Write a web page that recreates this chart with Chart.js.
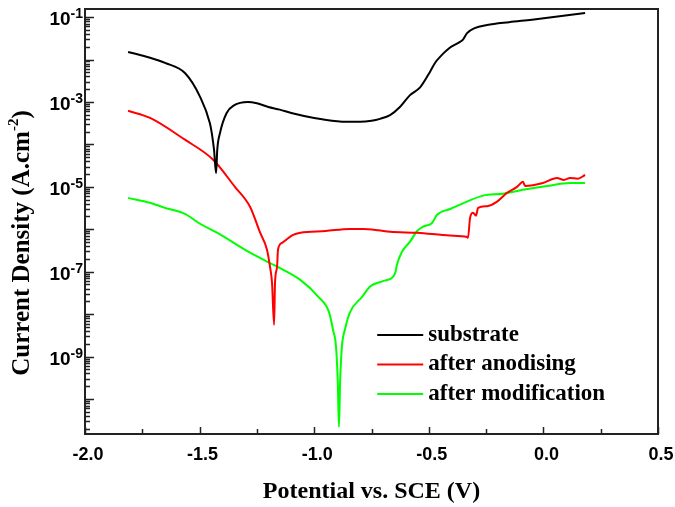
<!DOCTYPE html>
<html lang="en">
<head>
    <meta charset="UTF-8">
    <title>Polarization curves</title>
    <script src="https://cdn.jsdelivr.net/npm/chart.js"></script>
    <style>
        body { margin: 0; background: #fff; }
    </style>
</head>
<body>
    <canvas id="tafelChart" width="675" height="507"></canvas>

    <script>
        // potential (V vs. SCE) and current density (A/cm2)
        const substrateE = [-1.812, -1.716, -1.651, -1.564, -1.498, -1.455, -1.447, -1.437, -1.428, -1.423,
            -1.411, -1.382, -1.35, -1.289, -1.25, -1.20, -1.15, -1.10, -1.0, -0.9,
            -0.857, -0.80, -0.75, -0.713, -0.669, -0.626, -0.582, -0.538, -0.495, -0.473,
            -0.451, -0.41, -0.364, -0.35, -0.333, -0.30, -0.246, -0.15, -0.05, 0.182];
        const substrateI = [1.51e-2, 1.10e-2, 8.3e-3, 4.8e-3, 1.32e-3, 3.16e-4, 1.86e-4, 7.4e-5, 2.1e-5, 7.4e-5,
            1.86e-4, 5.5e-4, 8.3e-4, 1.0e-3, 9.3e-4, 7.6e-4, 6.6e-4, 5.5e-4, 4.2e-4, 3.5e-4,
            3.4e-4, 3.4e-4, 3.6e-4, 4.0e-4, 4.9e-4, 7.6e-4, 1.45e-3, 2.2e-3, 5.1e-3, 8.3e-3,
            1.15e-2, 1.86e-2, 2.6e-2, 3.0e-2, 4.2e-2, 5.5e-2, 6.5e-2, 7.6e-2, 8.7e-2, 1.24e-1];

        const anodisedE = [-1.812, -1.716, -1.564, -1.442, -1.346, -1.28, -1.236, -1.206, -1.193, -1.184,
            -1.175, -1.171, -1.162, -1.158, -1.14, -1.092, -1.06, -0.95, -0.844, -0.787,
            -0.72, -0.669, -0.55, -0.407, -0.333, -0.329, -0.320, -0.307, -0.294, -0.285,
            -0.246, -0.202, -0.159, -0.115, -0.089, -0.080, -0.002, 0.059, 0.09, 0.116,
            0.15, 0.182];
        const anodisedI = [6.2e-4, 4.2e-4, 1.29e-4, 4.4e-5, 1.0e-5, 3.4e-6, 8.3e-7, 3.3e-7, 1.32e-7, 5.5e-8,
            5.6e-9, 5.5e-8, 1.32e-7, 3.3e-7, 4.8e-7, 7.4e-7, 8.3e-7, 9.1e-7, 1.02e-6, 1.02e-6,
            9.5e-7, 8.7e-7, 8.3e-7, 7.1e-7, 6.6e-7, 6.3e-7, 1.86e-6, 2.45e-6, 2.1e-6, 3.2e-6,
            3.5e-6, 4.5e-6, 7.2e-6, 1.0e-5, 1.32e-5, 1.05e-5, 1.23e-5, 1.62e-5, 1.45e-5, 1.62e-5,
            1.55e-5, 1.9e-5];

        const modifiedE = [-1.812, -1.716, -1.651, -1.564, -1.498, -1.424, -1.28, -1.162, -1.062, -0.983,
            -0.935, -0.918, -0.905, -0.897, -0.892, -0.887, -0.879, -0.866, -0.844, -0.79,
            -0.756, -0.70, -0.656, -0.645, -0.639, -0.617, -0.582, -0.551, -0.525, -0.486,
            -0.464, -0.407, -0.333, -0.263, -0.176, -0.089, 0.016, 0.116, 0.182];
        const modifiedI = [5.5e-6, 4.2e-6, 3.2e-6, 2.3e-6, 1.35e-6, 8.3e-7, 2.8e-7, 1.32e-7, 6.5e-8, 2.6e-8,
            1.1e-8, 4.3e-9, 1.74e-9, 2.5e-10, 2.2e-11, 2.5e-10, 1.74e-9, 4.3e-9, 1.1e-8, 2.6e-8,
            4.5e-8, 6.0e-8, 7.6e-8, 1.0e-7, 1.45e-7, 2.95e-7, 5.1e-7, 9.1e-7, 1.15e-6, 1.41e-6,
            2.2e-6, 3.0e-6, 4.5e-6, 6.2e-6, 6.9e-6, 8.5e-6, 1.05e-5, 1.23e-5, 1.23e-5];

        const seriesNames = ['substrate', 'after anodising', 'after modification'];
        const seriesColors = ['#000000', '#ff0000', '#00ff00'];

        // axis range and labelled ticks
        const xMin = -2.0, xMax = 0.5, xStep = 0.5, xMinorStep = 0.25;
        const yMin = 1.5e-11, yMax = 0.155;
        const yLabelExponents = [-1, -3, -5, -7, -9];
        const yTitle = ['Current Density (A.cm', '-2', ')'];

        function pairs(xs, ys) {
            return xs.map((v, i) => ({ x: v, y: ys[i] }));
        }

        const serifFont = "'Liberation Serif', 'Times New Roman', serif";
        const sansFont = "'Liberation Sans', Arial, sans-serif";

        // inward tick marks, frame, superscript labels and the inset legend
        const axisDecor = {
            id: 'axisDecor',
            beforeDatasetsDraw(chart) {
                const { ctx, chartArea: a, scales: { x, y } } = chart;
                ctx.save();
                ctx.strokeStyle = '#222';
                ctx.lineWidth = 1.5;
                ctx.beginPath();
                const n = Math.round((xMax - xMin) / xMinorStep);
                for (let i = 0; i <= n; i++) {
                    const v = xMin + i * xMinorStep;
                    const px = Math.round(x.getPixelForValue(v)) + 0.5;
                    const len = (i % 2 === 0) ? 7 : 5;
                    ctx.moveTo(px, a.bottom);
                    ctx.lineTo(px, a.bottom - len);
                }
                const e0 = Math.floor(Math.log10(yMin)), e1 = Math.ceil(Math.log10(yMax));
                for (let e = e0; e <= e1; e++) {
                    for (let m = 1; m <= 9; m++) {
                        const v = m * Math.pow(10, e);
                        if (v < yMin || v > yMax) continue;
                        const py = Math.round(y.getPixelForValue(v)) + 0.5;
                        const len = m === 1 ? 9 : 5;
                        ctx.moveTo(a.left, py);
                        ctx.lineTo(a.left + len, py);
                    }
                }
                ctx.stroke();
                ctx.lineWidth = 2;
                ctx.strokeStyle = '#222';
                ctx.strokeRect(a.left, a.top, a.width, a.height);
                ctx.restore();
            },
            afterDraw(chart) {
                const { ctx, chartArea: a, scales: { y } } = chart;
                ctx.save();
                ctx.fillStyle = '#000';
                ctx.textBaseline = 'alphabetic';
                ctx.textAlign = 'left';
                yLabelExponents.forEach(e => {
                    const py = y.getPixelForValue(Math.pow(10, e)) + 1;
                    const sup = String(e);
                    ctx.font = 'bold 14px ' + sansFont;
                    const ws = ctx.measureText(sup).width;
                    ctx.font = 'bold 19px ' + sansFont;
                    const wb = ctx.measureText('10').width;
                    const right = a.left - 2;
                    ctx.fillText('10', right - ws - wb, py + 7);
                    ctx.font = 'bold 14px ' + sansFont;
                    ctx.fillText(sup, right - ws, py);
                });

                // rotated y title with superscript
                ctx.save();
                ctx.translate(21, a.top + 234);
                ctx.rotate(-Math.PI / 2);
                const big = 'bold 25px ' + serifFont, small = 'bold 15px ' + serifFont;
                ctx.font = big;
                const w0 = ctx.measureText(yTitle[0]).width, w2 = ctx.measureText(yTitle[2]).width;
                ctx.font = small;
                const w1 = ctx.measureText(yTitle[1]).width;
                let tx = -(w0 + w1 + w2) / 2;
                ctx.font = big;
                ctx.fillText(yTitle[0], tx, 8);
                ctx.font = small;
                ctx.fillText(yTitle[1], tx + w0, -3);
                ctx.font = big;
                ctx.fillText(yTitle[2], tx + w0 + w1, 8);
                ctx.restore();

                // legend inside the plot
                const lx = a.left + 0.51 * a.width;
                const ly = a.top + 326;
                chart.data.datasets.forEach((ds, i) => {
                    const yy = ly + i * 29.5;
                    ctx.strokeStyle = ds.borderColor;
                    ctx.lineWidth = 2;
                    ctx.beginPath();
                    ctx.moveTo(lx, yy);
                    ctx.lineTo(lx + 46, yy);
                    ctx.stroke();
                    ctx.font = 'bold 23px ' + serifFont;
                    ctx.textBaseline = 'middle';
                    ctx.fillText(ds.label, lx + 51, yy);
                });
                ctx.restore();
            }
        };

        const ctx = document.getElementById('tafelChart').getContext('2d');
        new Chart(ctx, {
            type: 'line',
            data: {
                datasets: [
                    { label: seriesNames[0], data: pairs(substrateE, substrateI), borderColor: seriesColors[0] },
                    { label: seriesNames[1], data: pairs(anodisedE, anodisedI), borderColor: seriesColors[1] },
                    { label: seriesNames[2], data: pairs(modifiedE, modifiedI), borderColor: seriesColors[2] }
                ]
            },
            options: {
                responsive: false,
                animation: false,
                parsing: false,
                elements: {
                    line: { borderWidth: 2, cubicInterpolationMode: 'monotone', fill: false },
                    point: { radius: 0, hoverRadius: 0 }
                },
                layout: { padding: { top: 9, right: 17, left: 0, bottom: 0 } },
                plugins: {
                    legend: { display: false },
                    tooltip: { enabled: false }
                },
                scales: {
                    x: {
                        type: 'linear',
                        min: xMin,
                        max: xMax,
                        grid: { display: false, drawTicks: false },
                        border: { display: false },
                        ticks: {
                            stepSize: xStep,
                            padding: 10,
                            labelOffset: 3,
                            color: '#000',
                            font: { family: sansFont, size: 18, weight: 'bold' },
                            callback: v => v.toFixed(1)
                        },
                        title: {
                            display: true,
                            text: 'Potential vs. SCE (V)',
                            color: '#000',
                            font: { family: serifFont, size: 24, weight: 'bold', lineHeight: 1.2 },
                            padding: { top: 0, bottom: 1 }
                        },
                        afterFit: s => {
                            s.height = 73;
                            s.paddingLeft = 0;
                            s.paddingRight = 0;
                        }
                    },
                    y: {
                        type: 'logarithmic',
                        min: yMin,
                        max: yMax,
                        grid: { display: false, drawTicks: false },
                        border: { display: false },
                        ticks: { autoSkip: false, callback: () => '' },
                        title: { display: false },
                        afterFit: s => {
                            s.width = 85;
                            s.paddingTop = 0;
                            s.paddingBottom = 0;
                        }
                    }
                }
            },
            plugins: [axisDecor]
        });
    </script>
</body>
</html>
